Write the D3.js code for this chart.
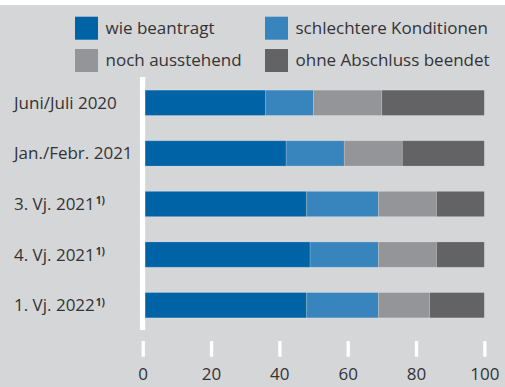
<!DOCTYPE html>
<html>
<head>
<meta charset="utf-8">
<script src="https://cdn.jsdelivr.net/npm/d3@7"></script>
<style>
  html, body { margin: 0; padding: 0; background: #fff; }
  svg { display: block; }
  text { font-family: "Open Sans", "Noto Sans", sans-serif; fill: #333335; }
</style>
</head>
<body>
<svg id="chart" width="505" height="387"></svg>
<script>
// Periods (top to bottom) and their footnote markers
const categories = ["Juni/Juli 2020", "Jan./Febr. 2021", "3. Vj. 2021", "4. Vj. 2021", "1. Vj. 2022"];
const footnotes = ["", "", "1)", "1)", "1)"];

// Shares in percent per outcome
const series = ["wie beantragt", "schlechtere Konditionen", "noch ausstehend", "ohne Abschluss beendet"];
const wieBeantragt = [36, 42, 48, 49, 48];
const schlechtereKonditionen = [14, 17, 21, 20, 21];
const nochAusstehend = [20, 17, 17, 17, 15];
const ohneAbschluss = [30, 24, 14, 14, 16];

const tickValues = [0, 20, 40, 60, 80, 100];
const colors = ["#0063a6", "#3884bd", "#949598", "#636365"];

const svg = d3.select("#chart");
const W = 505, H = 387;

svg.append("rect").attr("x", 0).attr("y", 5).attr("width", W).attr("height", H - 5).attr("fill", "#d5d6d8");

const x = d3.scaleLinear().domain([0, 100]).range([142.7, 484.3]);
const y = d3.scaleBand().domain(categories).range([77.5, 330.5]).paddingInner(0.5).paddingOuter(0.25);

const rows = categories.map((c, i) => ({
  cat: c,
  vals: [wieBeantragt[i], schlechtereKonditionen[i], nochAusstehend[i], ohneAbschluss[i]]
}));
const table = rows.map(r => {
  const o = { cat: r.cat };
  series.forEach((s, j) => o[s] = r.vals[j]);
  return o;
});
const stacked = d3.stack().keys(series)(table);

// Stacked bars
svg.append("g").selectAll("g")
  .data(stacked)
  .join("g")
  .attr("fill", (d, i) => colors[i])
  .selectAll("rect")
  .data(d => d)
  .join("rect")
  .attr("x", d => x(d[0]))
  .attr("y", d => y(d.data.cat))
  .attr("width", d => x(d[1]) - x(d[0]))
  .attr("height", y.bandwidth())
  .attr("stroke", "rgba(255,255,255,0.22)")
  .attr("stroke-width", 0.8);

// Vertical zero line
svg.append("rect")
  .attr("x", x(0) - 2.7).attr("y", 77)
  .attr("width", 5.2).attr("height", 253)
  .attr("fill", "#ffffff");

// Category labels
const labels = svg.append("g").selectAll("text")
  .data(categories)
  .join("text")
  .attr("x", 14)
  .attr("y", d => y(d) + y.bandwidth() / 2)
  .attr("dy", "0.35em")
  .attr("font-size", 17)
  .text(d => d);
labels.append("tspan")
  .attr("dy", "-0.55em")
  .attr("dx", 1)
  .attr("font-size", 10)
  .attr("font-weight", "bold")
  .text((d, i) => footnotes[i]);

// Bottom axis: white tick marks and numbers
const axis = d3.axisBottom(x).tickValues(tickValues).tickSize(0).tickPadding(0);
const ag = svg.append("g").attr("transform", "translate(0,341)").call(axis);
ag.select(".domain").remove();
ag.selectAll(".tick line").remove();
ag.selectAll(".tick").append("rect")
  .attr("x", -1.6).attr("y", 0).attr("width", 3.3).attr("height", 15.7)
  .attr("fill", "#ffffff");
ag.selectAll(".tick text")
  .attr("y", 39)
  .attr("dy", 0)
  .attr("font-size", 17)
  .attr("font-family", null)
  .attr("fill", "#333335");

// Legend
const legendPos = [[75, 16.7], [265, 16.7], [75, 49], [265, 49]];
const lg = svg.append("g").selectAll("g")
  .data(series)
  .join("g")
  .attr("transform", (d, i) => `translate(${legendPos[i][0]},${legendPos[i][1]})`);
lg.append("rect").attr("width", 23).attr("height", 23).attr("fill", (d, i) => colors[i]);
lg.append("text")
  .attr("x", 30.5).attr("y", 11.5).attr("dy", "0.35em")
  .attr("font-size", 17)
  .text(d => d);
</script>
</body>
</html>
